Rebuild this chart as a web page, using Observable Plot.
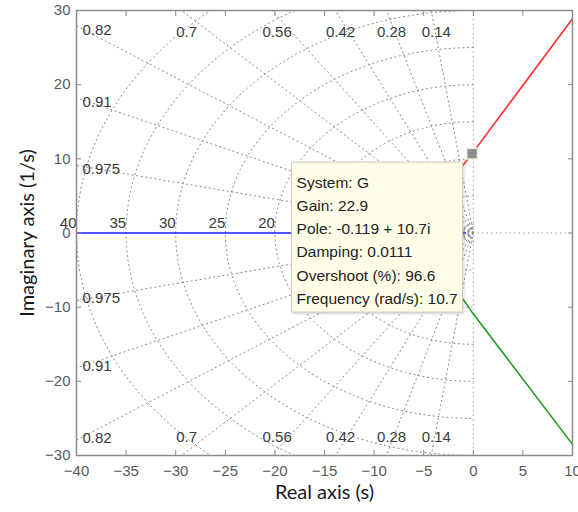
<!DOCTYPE html>
<html>
<head>
<meta charset="utf-8">
<script src="https://cdn.jsdelivr.net/npm/d3@7"></script>
<script src="https://cdn.jsdelivr.net/npm/@observablehq/plot@0.6"></script>
<style>
  body { margin: 0; background: #fff; }
  #chart { position: relative; width: 578px; height: 512px; }
</style>
</head>
<body>
<div id="chart"></div>
<script>
// s-plane grid: constant damping rays and constant natural-frequency half circles
const dampingRatios = [0.14, 0.28, 0.42, 0.56, 0.7, 0.82, 0.91, 0.975];
const naturalFrequencies = [5, 10, 15, 20, 25, 30, 35, 40];
const labelledFrequencies = [20, 25, 30, 35, 40];
const innerFrequencies = [0.5, 1.2];

// axis ticks
const xTicks = [-40, -35, -30, -25, -20, -15, -10, -5, 0, 5, 10];
const yTicks = [-30, -20, -10, 0, 10, 20, 30];

// root locus branches of G (real part, imaginary part)
const realBranch = [[-40, 0], [-0.8, 0]];
const upperBranch = [[-2.0, 7.4], [-0.88, 9.41], [-0.119, 10.7], [10, 28.9]];
const lowerBranch = [[-2.0, -7.4], [-0.89, -9.19], [-0.119, -10.7], [10, -28.5]];

// selected closed-loop pole and its data tip
const selectedPole = {re: -0.119, im: 10.7};
const dataTipLines = [
  "System: G",
  "Gain: 22.9",
  "Pole: -0.119 + 10.7i",
  "Damping: 0.0111",
  "Overshoot (%): 96.6",
  "Frequency (rad/s): 10.7"
];

const xDomain = [-40, 10];
const yDomain = [-30, 30];

// rays from the origin for each damping ratio (upper and lower half-plane)
const rayPoints = dampingRatios.flatMap((z, i) => {
  const phi = Math.acos(z);
  const c = -100 * Math.cos(phi), s = 100 * Math.sin(phi);
  return [
    {re: 0, im: 0, id: 2 * i}, {re: c, im: s, id: 2 * i},
    {re: 0, im: 0, id: 2 * i + 1}, {re: c, im: -s, id: 2 * i + 1}
  ];
});

// left half circles for each natural frequency
const circlePoints = naturalFrequencies.concat(innerFrequencies).flatMap(w =>
  d3.range(0, 181).map(k => {
    const a = Math.PI / 2 + (k / 180) * Math.PI;
    return {re: w * Math.cos(a), im: w * Math.sin(a), w};
  })
);

// damping labels where each ray leaves the plotting box
const topLabels = [], bottomLabels = [], upperSideLabels = [], lowerSideLabels = [];
for (const z of dampingRatios) {
  const t = Math.sqrt(1 - z * z) / z;
  const xTop = -yDomain[1] / t;
  if (xTop >= xDomain[0]) {
    topLabels.push({re: xTop, im: yDomain[1], label: String(z)});
    bottomLabels.push({re: xTop, im: yDomain[0], label: String(z)});
  } else {
    const yLeft = -xDomain[0] * t;
    upperSideLabels.push({re: xDomain[0], im: yLeft, label: String(z)});
    lowerSideLabels.push({re: xDomain[0], im: -yLeft, label: String(z)});
  }
}
const freqLabels = labelledFrequencies.map(w => ({re: -w, im: 0, label: String(w)}));

const toPts = (arr) => arr.map(([re, im]) => ({re, im}));

const gridStyle = {stroke: "#8a8a8a", strokeWidth: 1, strokeDasharray: "1.2,3.4", clip: true};
const labelFont = {fontFamily: "Liberation Sans, Arial, sans-serif", fontSize: 15, fill: "#3a3a3a"};
const tickStroke = "#8c8c8c";

const plot = Plot.plot({
  width: 578,
  height: 512,
  marginLeft: 76,
  marginRight: 6,
  marginTop: 10,
  marginBottom: 57,
  style: {fontFamily: "Liberation Sans, Arial, sans-serif", fontSize: "15px", color: "#5a5a5a", background: "#fff"},
  x: {domain: xDomain, label: null},
  y: {domain: yDomain, label: null},
  marks: [
    // grid
    Plot.line(rayPoints, {x: "re", y: "im", z: "id", ...gridStyle}),
    Plot.line(circlePoints, {x: "re", y: "im", z: "w", ...gridStyle}),
    Plot.ruleX([0], {...gridStyle}),
    Plot.ruleY([0], {x1: 0, x2: xDomain[1], ...gridStyle}),
    // grid labels
    Plot.text(topLabels, {x: "re", y: "im", text: "label", dx: 5, dy: 22, ...labelFont}),
    Plot.text(bottomLabels, {x: "re", y: "im", text: "label", dx: 5, dy: -18, ...labelFont}),
    Plot.text(upperSideLabels, {x: "re", y: "im", text: "label", textAnchor: "start", dx: 6, dy: 4, ...labelFont}),
    Plot.text(lowerSideLabels, {x: "re", y: "im", text: "label", textAnchor: "start", dx: 6, dy: -2, ...labelFont}),
    Plot.text(freqLabels, {x: "re", y: "im", text: "label", textAnchor: "end", dy: -10, ...labelFont}),
    // locus
    Plot.line(toPts(realBranch), {x: "re", y: "im", stroke: "#1a1aff", strokeWidth: 1.6, clip: true}),
    Plot.line(toPts(upperBranch), {x: "re", y: "im", stroke: "#ff2a2a", strokeWidth: 1.6, clip: true}),
    Plot.line(toPts(lowerBranch), {x: "re", y: "im", stroke: "#1f9a1f", strokeWidth: 1.6, clip: true}),
    // axes: inward ticks on all sides, labels bottom and left
    Plot.frame({stroke: tickStroke, strokeWidth: 1.5}),
    Plot.axisX({ticks: xTicks, tickSize: -5, tickFormat: () => "", anchor: "bottom", stroke: tickStroke}),
    Plot.axisX({ticks: xTicks, tickSize: -5, tickFormat: () => "", anchor: "top", stroke: tickStroke}),
    Plot.axisY({ticks: yTicks, tickSize: -5, tickFormat: () => "", anchor: "left", stroke: tickStroke}),
    Plot.axisY({ticks: yTicks, tickSize: -5, tickFormat: () => "", anchor: "right", stroke: tickStroke}),
    Plot.axisX({ticks: xTicks, tickSize: 0, tickPadding: 10, anchor: "bottom", fill: "#5a5a5a"}),
    Plot.axisY({ticks: yTicks, tickSize: 0, tickPadding: 6, anchor: "left", fill: "#5a5a5a"}),
    // axis titles
    Plot.text(["Real axis (s)"], {frameAnchor: "bottom", dy: 43, fontFamily: "Lato, sans-serif", fontSize: 20, fill: "#1a1a1a"}),
    Plot.text(["Imaginary axis (1/s)"], {frameAnchor: "left", textAnchor: "middle", dx: -49, rotate: -90, fontFamily: "Lato, sans-serif", fontSize: 20, fill: "#1a1a1a"}),
    // selected pole marker
    Plot.dot([selectedPole], {x: "re", y: "im", symbol: "square", r: 6, fill: "#8e8e8e", stroke: "#efefdc", strokeWidth: 1.5})
  ]
});

// data tip box anchored to the selected pole
const px = plot.scale("x").apply(selectedPole.re);
const py = plot.scale("y").apply(selectedPole.im);
const svg = d3.select(plot);
const defs = svg.append("defs");
const f = defs.append("filter").attr("id", "tipShadow").attr("x", "-10%").attr("y", "-10%").attr("width", "130%").attr("height", "130%");
f.append("feDropShadow").attr("dx", 1).attr("dy", 1).attr("stdDeviation", 1).attr("flood-color", "#000").attr("flood-opacity", 0.2);
const tip = svg.append("g").attr("transform", `translate(${px - 180},${py + 9})`);
tip.append("rect").attr("width", 171).attr("height", 150)
  .attr("fill", "#ffffe9").attr("stroke", "#c9c9c0").attr("stroke-width", 1)
  .attr("filter", "url(#tipShadow)");
tip.selectAll("text.line").data(dataTipLines).join("text")
  .attr("class", "line")
  .attr("x", 5).attr("y", (d, i) => 20 + i * 23.3).attr("dy", "0.35em")
  .attr("text-anchor", "start")
  .attr("font-family", "Liberation Sans, Arial, sans-serif").attr("font-size", 15.5)
  .attr("fill", "#222").text(d => d);

document.getElementById("chart").appendChild(plot);
</script>
</body>
</html>
